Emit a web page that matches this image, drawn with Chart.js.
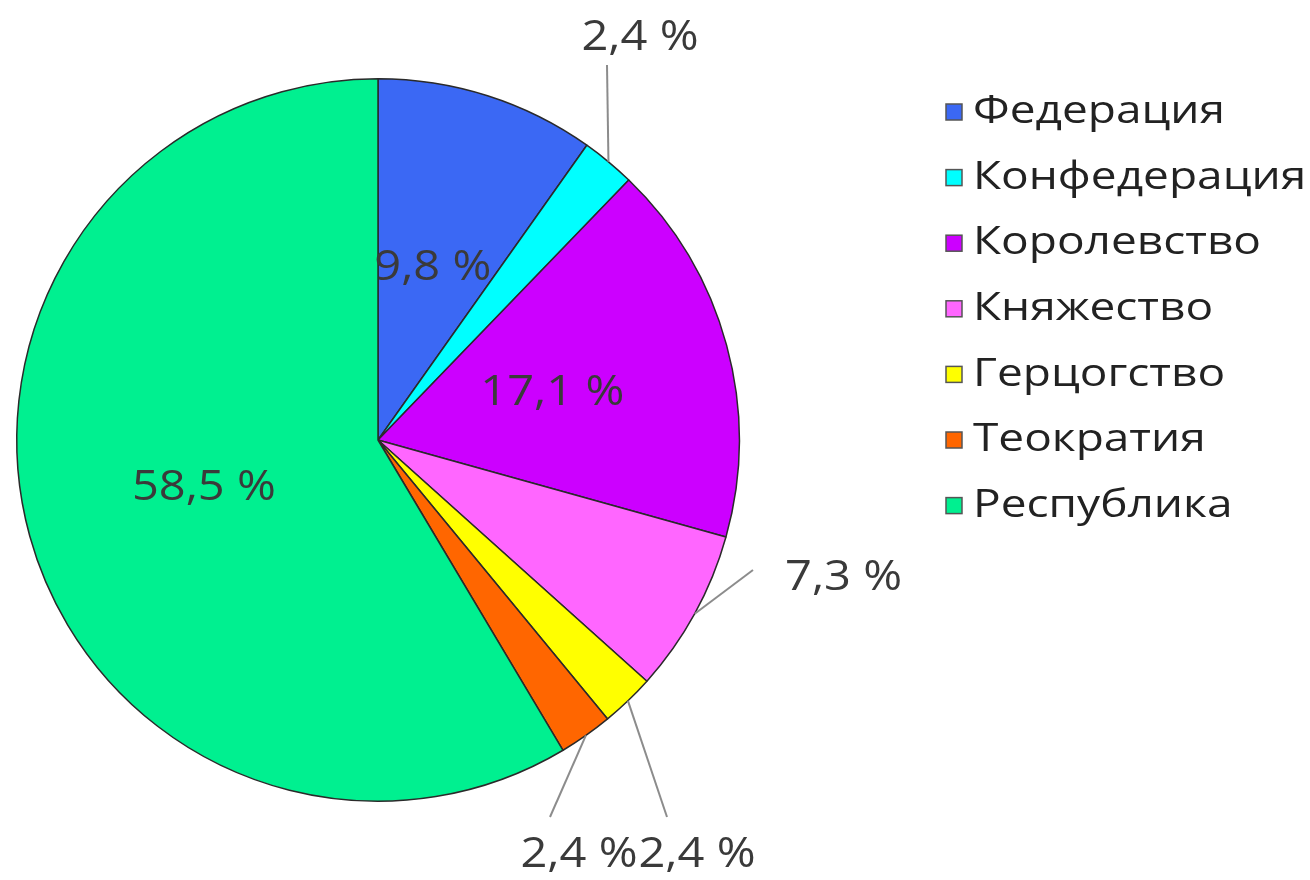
<!DOCTYPE html>
<html><head><meta charset="utf-8">
<script src="https://cdn.jsdelivr.net/npm/chart.js@4.4.1/dist/chart.umd.min.js"></script>
<style>html,body{margin:0;padding:0;background:#fff}#wrap{width:1310px;height:880px;position:relative}</style>
</head><body><div id="wrap"><canvas id="c" width="1310" height="880"></canvas></div>
<script>
const categories = ['Федерация','Конфедерация','Королевство','Княжество','Герцогство','Теократия','Республика'];
const shares = [9.8, 2.4, 17.1, 7.3, 2.4, 2.4, 58.5];
const valueLabels = ['9,8 %','2,4 %','17,1 %','7,3 %','2,4 %','2,4 %','58,5 %'];
const colors = ['#3B68F4','#00FFFF','#CC00FF','#FF66FF','#FFFF00','#FF6600','#00F090'];

// label placement: inside, or outside with leader end and text anchor (relative to pie centre)
const placement = [
  {inside:true},
  {leader:[229,-375], text:[262,-402], align:'center'},
  {inside:true},
  {leader:[375,130], text:[407,138], align:'left'},
  {leader:[289,377], text:[319,415], align:'center'},
  {leader:[172,377], text:[201,415], align:'center'},
  {inside:true}
];

function drawText(ctx, txt, x, y, size, align, color, sxScale){
  ctx.save();
  ctx.font = size + 'px "Open Sans"';
  ctx.fillStyle = color;
  ctx.textBaseline = 'middle';
  const w = ctx.measureText(txt).width * sxScale;
  let left = x;
  if (align === 'center') left = x - w/2;
  else if (align === 'right') left = x - w;
  ctx.translate(left, y);
  ctx.scale(sxScale, 1);
  ctx.textAlign = 'left';
  ctx.fillText(txt, 0, 0);
  ctx.restore();
}

const labelPlugin = {
  id: 'labelsAndLegend',
  afterDraw(chart){
    const ctx = chart.ctx;
    const meta = chart.getDatasetMeta(0);
    meta.data.forEach((arc, i) => {
      const p = placement[i];
      const mid = (arc.startAngle + arc.endAngle)/2;
      const r = arc.outerRadius;
      if (p.inside){
        const x = arc.x + Math.cos(mid)*r*0.5;
        const y = arc.y + Math.sin(mid)*r*0.5;
        drawText(ctx, valueLabels[i], x, y, 42, 'center', '#3a3a3a', 1.12);
      } else {
        const sx = arc.x + Math.cos(mid)*r;
        const sy = arc.y + Math.sin(mid)*r;
        ctx.save();
        ctx.strokeStyle = '#8c8c8c';
        ctx.lineWidth = 2;
        ctx.beginPath();
        ctx.moveTo(sx, sy);
        ctx.lineTo(arc.x + p.leader[0], arc.y + p.leader[1]);
        ctx.stroke();
        ctx.restore();
        drawText(ctx, valueLabels[i], arc.x + p.text[0], arc.y + p.text[1], 42, p.align, '#3a3a3a', 1.12);
      }
    });
    // legend
    const lx = 946, ly0 = 112, step = 65.6;
    chart.data.labels.forEach((lab, i) => {
      const y = ly0 + i*step;
      ctx.save();
      ctx.fillStyle = chart.data.datasets[0].backgroundColor[i];
      ctx.strokeStyle = '#555';
      ctx.lineWidth = 1.5;
      ctx.fillRect(lx, y-8, 16, 16);
      ctx.strokeRect(lx, y-8, 16, 16);
      ctx.restore();
      drawText(ctx, lab, 973, y, 39, 'left', '#222', 1.18);
    });
  }
};

new Chart(document.getElementById('c'), {
  type: 'pie',
  data: {
    labels: categories,
    datasets: [{
      data: shares,
      backgroundColor: colors,
      borderColor: '#2a2a2a',
      borderWidth: 1.5
    }]
  },
  options: {
    responsive: false,
    animation: false,
    layout: {padding: {left: 16, top: 78, right: 570, bottom: 78}},
    plugins: {legend: {display: false}, tooltip: {enabled: false}, title: {display: false}}
  },
  plugins: [labelPlugin]
});
</script>
</body></html>
